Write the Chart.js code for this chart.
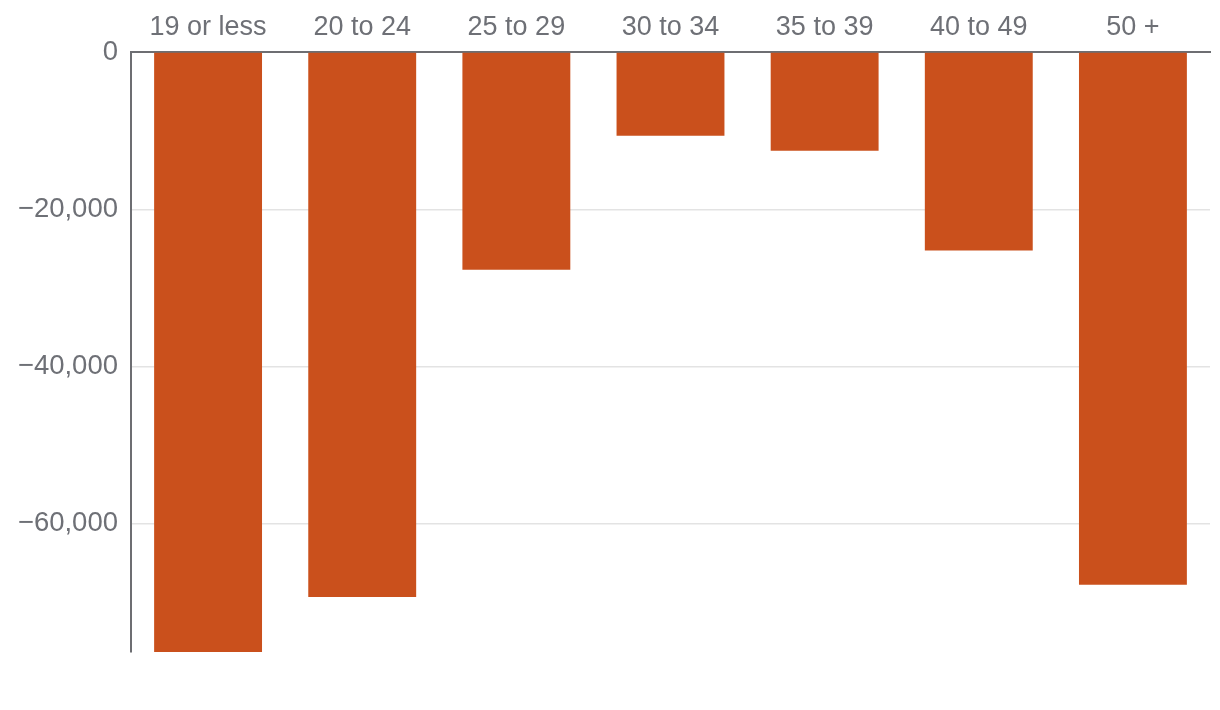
<!DOCTYPE html>
<html>
<head>
<meta charset="utf-8">
<style>
  html, body { margin: 0; padding: 0; background: #ffffff; }
  #wrap { width: 1220px; height: 710px; position: relative; }
</style>
<script src="https://cdn.jsdelivr.net/npm/chart.js@4.4.1/dist/chart.umd.min.js"></script>
</head>
<body>
<div id="wrap"><canvas id="c" width="1220" height="710"></canvas></div>
<script>
const categories = ["19 or less", "20 to 24", "25 to 29", "30 to 34", "35 to 39", "40 to 49", "50 +"];
const values = [-76300, -69300, -27700, -10650, -12550, -25250, -67750];
const yTicks = [0, -20000, -40000, -60000];

const textColor = "#6e7076";
const fontFamily = "'Liberation Sans', 'DejaVu Sans', sans-serif";

new Chart(document.getElementById("c"), {
  type: "bar",
  data: {
    labels: categories,
    datasets: [{
      data: values,
      backgroundColor: "#CA501C",
      borderWidth: 0,
      categoryPercentage: 0.70,
      barPercentage: 1.0
    }]
  },
  options: {
    responsive: false,
    animation: false,
    devicePixelRatio: 1,
    layout: { padding: { left: 0, right: 10, top: 0, bottom: 58 } },
    plugins: { legend: { display: false }, tooltip: { enabled: false } },
    scales: {
      x: {
        position: "top",
        grid: { display: false, drawTicks: false },
        border: { display: true, color: "#6d6e72", width: 2 },
        ticks: { color: textColor, font: { family: fontFamily, size: 27 }, padding: 8, maxRotation: 0 },
        afterFit: (s) => { s.height = 52; }
      },
      y: {
        min: -76300,
        max: 0,
        afterBuildTicks: (s) => { s.ticks = yTicks.map(v => ({ value: v })); },
        grid: { color: "#e3e3e3", lineWidth: 1.5, drawTicks: false },
        border: { display: true, color: "#6d6e72", width: 2 },
        ticks: {
          color: textColor,
          font: { family: fontFamily, size: 27.5 },
          padding: 13,
          callback: (v) => v === 0 ? "0" : "\u2212" + Math.abs(v).toLocaleString("en-US")
        },
        afterFit: (s) => { s.width = 131; }
      }
    }
  }
});
</script>
</body>
</html>
